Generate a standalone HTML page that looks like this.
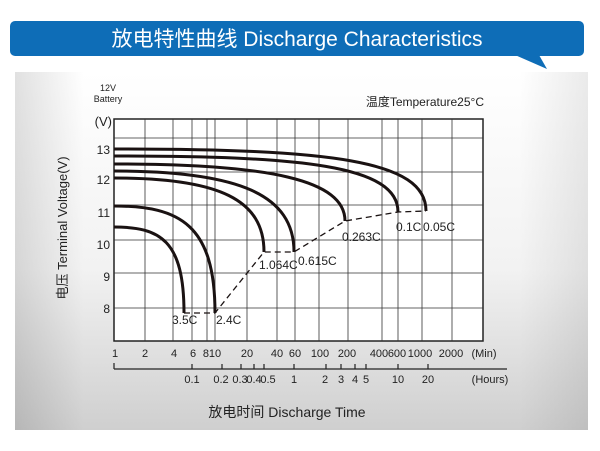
<!DOCTYPE html>
<html><head><meta charset="utf-8"><style>
html,body{margin:0;padding:0;background:#fff;}
body{width:600px;height:451px;overflow:hidden;position:relative;font-family:"Liberation Sans","Noto Sans CJK SC",sans-serif;}
</style></head><body>
<svg width="600" height="451" viewBox="0 0 600 451" xmlns="http://www.w3.org/2000/svg" style="position:absolute;left:0;top:0">
<defs>
<linearGradient id="pv" x1="0" y1="0" x2="0" y2="1">
<stop offset="0" stop-color="#ffffff"/>
<stop offset="0.55" stop-color="#f2f2f2"/>
<stop offset="1" stop-color="#cfcfcf"/>
</linearGradient>
<linearGradient id="ph" x1="0" y1="0" x2="1" y2="0">
<stop offset="0" stop-color="#000" stop-opacity="0.12"/>
<stop offset="0.12" stop-color="#000" stop-opacity="0"/>
<stop offset="0.88" stop-color="#000" stop-opacity="0"/>
<stop offset="1" stop-color="#000" stop-opacity="0.08"/>
</linearGradient>
</defs>
<rect x="15" y="72" width="573" height="358" fill="url(#pv)"/>
<rect x="15" y="72" width="573" height="358" fill="url(#ph)"/>
<rect x="10" y="21" width="574" height="35" rx="5" fill="#0e6db7"/>
<polygon points="515,55 547,69 539,55" fill="#0e6db7"/>
<text x="297" y="46" fill="#fff" font-size="21" text-anchor="middle" font-family="Liberation Sans,Noto Sans CJK SC,sans-serif">放电特性曲线 Discharge Characteristics</text>

<rect x="114" y="119" width="369" height="222" fill="#fff" stroke="#222" stroke-width="1.5"/>
<g stroke="#333" stroke-width="0.8">
<line x1="114" y1="138" x2="483" y2="138"/>
<line x1="114" y1="172" x2="483" y2="172"/>
<line x1="114" y1="205" x2="483" y2="205"/>
<line x1="114" y1="240" x2="483" y2="240"/>
<line x1="114" y1="273" x2="483" y2="273"/>
<line x1="114" y1="308" x2="483" y2="308"/>
<line x1="145" y1="119" x2="145" y2="341"/>
<line x1="173" y1="119" x2="173" y2="341"/>
<line x1="192" y1="119" x2="192" y2="341"/>
<line x1="207" y1="119" x2="207" y2="341"/>
<line x1="215" y1="119" x2="215" y2="341"/>
<line x1="247" y1="119" x2="247" y2="341"/>
<line x1="277" y1="119" x2="277" y2="341"/>
<line x1="295" y1="119" x2="295" y2="341"/>
<line x1="319" y1="119" x2="319" y2="341"/>
<line x1="348" y1="119" x2="348" y2="341"/>
<line x1="382" y1="119" x2="382" y2="341"/>
<line x1="398" y1="119" x2="398" y2="341"/>
<line x1="422" y1="119" x2="422" y2="341"/>
<line x1="452" y1="119" x2="452" y2="341"/>
</g>
<g fill="none" stroke="#1a1212" stroke-width="3">
<path d="M114,149 C330,149 426,160 426,211"/>
<path d="M114,156 C300,156 398,165 398,212"/>
<path d="M114,164 C270,164 345,180 345,221"/>
<path d="M114,171 C240,171 294,195 294,252"/>
<path d="M114,178 C220,178 264,200 264,252"/>
<path d="M114,206 C180,206 215,225 215,313"/>
<path d="M114,227 C160,227 184,240 184,313"/>
</g>
<path d="M184,313 L215,313 L264,252 L294,252 L345,221 L398,212 L426,211" fill="none" stroke="#1a1212" stroke-width="1.3" stroke-dasharray="6,4"/>
<g font-size="12" fill="#222">
<text x="172" y="324">3.5C</text>
<text x="216" y="324">2.4C</text>
<text x="259" y="269">1.064C</text>
<text x="298" y="265">0.615C</text>
<text x="342" y="241">0.263C</text>
<text x="396" y="231">0.1C</text>
<text x="423" y="231">0.05C</text>
</g>
<g font-size="12" fill="#222" text-anchor="end">
<text x="110" y="154">13</text>
<text x="110" y="184">12</text>
<text x="110" y="217">11</text>
<text x="110" y="249">10</text>
<text x="110" y="281">9</text>
<text x="110" y="313">8</text>
<text x="112" y="126" font-size="13">(V)</text>
</g>
<text x="108" y="91" font-size="9" fill="#222" text-anchor="middle">12V</text>
<text x="108" y="102" font-size="9" fill="#222" text-anchor="middle">Battery</text>
<text x="484" y="106" font-size="12" fill="#222" text-anchor="end">温度Temperature25°C</text>
<text transform="translate(67,228) rotate(-90)" font-size="13" fill="#222" text-anchor="middle">电压 Terminal Voltage(V)</text>
<g font-size="11" fill="#222" text-anchor="middle">
<text x="115" y="357">1</text><text x="145" y="357">2</text><text x="174" y="357">4</text>
<text x="193" y="357">6</text><text x="212" y="357">810</text><text x="247" y="357">20</text>
<text x="277" y="357">40</text><text x="295" y="357">60</text><text x="320" y="357">100</text>
<text x="347" y="357">200</text><text x="379" y="357">400</text><text x="397" y="357">600</text>
<text x="420" y="357">1000</text><text x="451" y="357">2000</text><text x="484" y="357">(Min)</text>
</g>
<g stroke="#222" stroke-width="1.2">
<line x1="114" y1="369" x2="507" y2="369"/>
<line x1="114" y1="363" x2="114" y2="369"/>
<line x1="192" y1="364" x2="192" y2="369"/><line x1="222" y1="364" x2="222" y2="369"/>
<line x1="241" y1="364" x2="241" y2="369"/><line x1="254" y1="364" x2="254" y2="369"/>
<line x1="264" y1="364" x2="264" y2="369"/><line x1="294" y1="364" x2="294" y2="369"/>
<line x1="326" y1="364" x2="326" y2="369"/><line x1="341" y1="364" x2="341" y2="369"/>
<line x1="355" y1="364" x2="355" y2="369"/><line x1="366" y1="364" x2="366" y2="369"/>
<line x1="398" y1="364" x2="398" y2="369"/><line x1="428" y1="364" x2="428" y2="369"/>
</g>
<g font-size="11" fill="#222" text-anchor="middle">
<text x="192" y="383">0.1</text><text x="221" y="383">0.2</text><text x="240" y="383">0.3</text>
<text x="254" y="383">0.4</text><text x="268" y="383">0.5</text><text x="294" y="383">1</text>
<text x="325" y="383">2</text><text x="341" y="383">3</text><text x="355" y="383">4</text>
<text x="366" y="383">5</text><text x="398" y="383">10</text><text x="428" y="383">20</text>
<text x="490" y="383">(Hours)</text>
</g>
<text x="287" y="417" font-size="14" fill="#222" text-anchor="middle">放电时间 Discharge Time</text>
</svg>
</body></html>
